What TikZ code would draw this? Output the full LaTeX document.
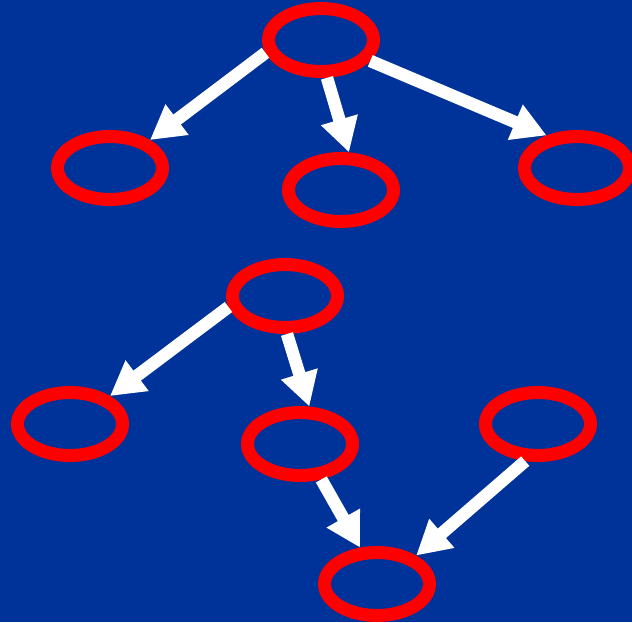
\documentclass[tikz,border=0pt]{standalone}
\usetikzlibrary{shapes.geometric, arrows.meta}
\definecolor{slideblue}{HTML}{003399}
\begin{document}
\begin{tikzpicture}[x=1pt, y=-1pt,
            blob/.style={ellipse, draw=red, line width=13pt, minimum width=105pt, minimum height=63pt},
            arrow/.style={-{Triangle[length=34pt, width=36pt]}, white, line width=12.5pt}
        ]
            \fill[slideblue] (0,0) rectangle (632,622);
            \useasboundingbox (0,0) rectangle (632,622);

            % first tree
            \node[blob] (root) at (321,40) {};
            \node[blob] (a1) at (110,168) {};
            \node[blob] (a2) at (341,190) {};
            \node[blob] (a3) at (577,168) {};

            % second graph
            \node[blob] (root2) at (285,296) {};
            \node[blob] (b1) at (70,424) {};
            \node[blob] (b2) at (300,444) {};
            \node[blob] (b3) at (538,424) {};
            \node[blob] (sink) at (377,584) {};

            \draw[arrow] (root.193) -- (a1.35);
            \draw[arrow] (root.279) -- (a2.78);
            \draw[arrow] (root.337) -- (a3.133);
            \draw[arrow] (root2.191) -- (b1.35);
            \draw[arrow] (root2.273) -- (b2.76);
            \draw[arrow] (b2.301) -- (sink.115);
            \draw[arrow] (b3.251) -- (sink.36);
        \end{tikzpicture}
\end{document}
